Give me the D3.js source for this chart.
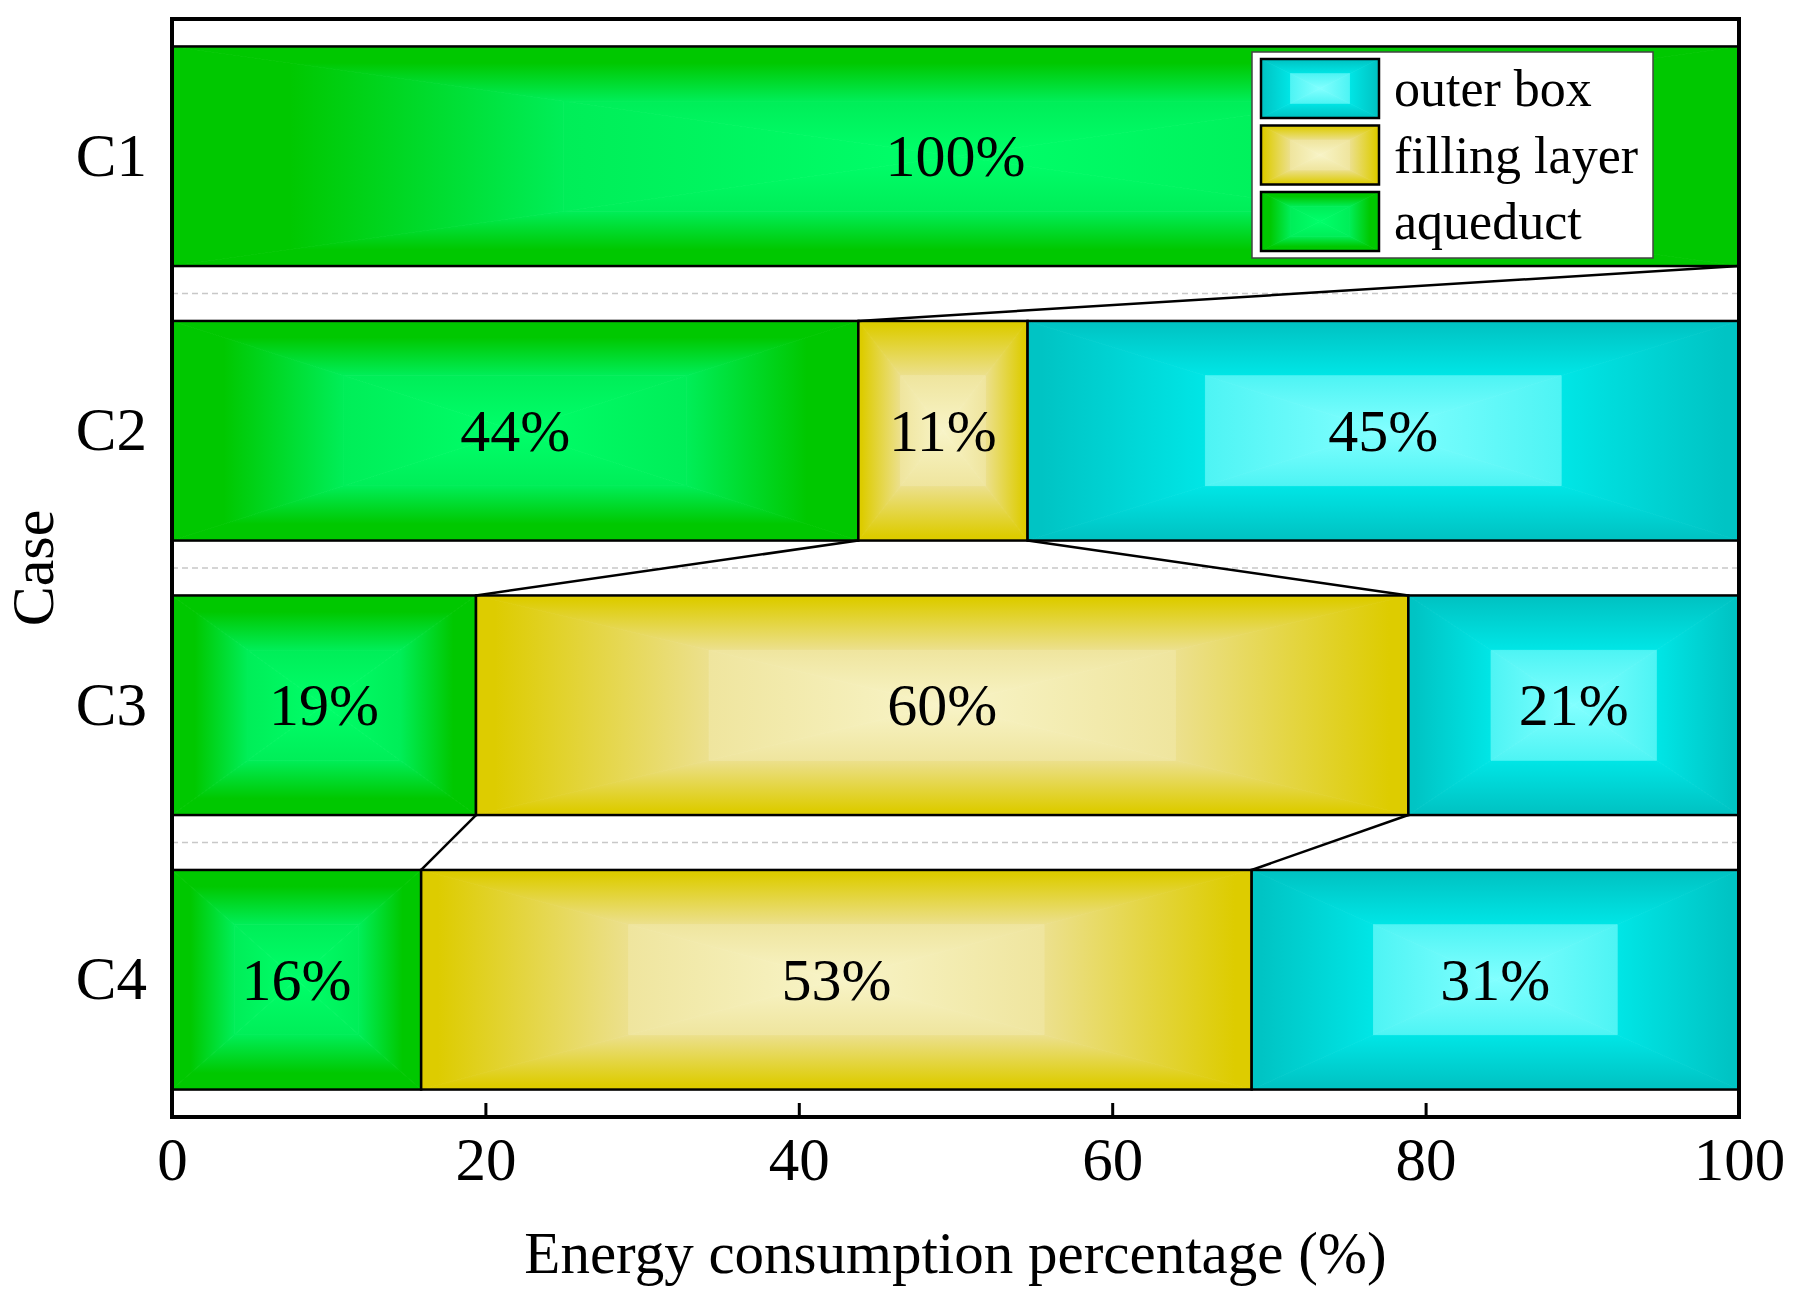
<!DOCTYPE html>
<html>
<head>
<meta charset="utf-8">
<script src="https://cdn.jsdelivr.net/npm/d3@7"></script>
<style>
    body { margin: 0; background: #fff; }
    text { font-family: 'Liberation Serif', 'Times New Roman', serif; fill: #000; }
</style>
</head>
<body>
<div id="chart"></div>
<script>
'use strict';

// data (percent of energy consumption)
const cases = ['C1', 'C2', 'C3', 'C4'];
const aqueduct = [100, 43.8, 19.4, 15.9];
const fillingLayer = [0, 10.8, 59.5, 53.0];
const outerBox = [0, 45.4, 21.1, 31.1];
const xTicks = [0, 20, 40, 60, 80, 100];

const keys = ['aqueduct', 'filling', 'outer'];
const legendOrder = ['outer', 'filling', 'aqueduct'];
const names = {aqueduct: 'aqueduct', filling: 'filling layer', outer: 'outer box'};

// edge, end of outer ring, start of inner box, centre
const shades = {
    aqueduct: ['#00c800', '#00ee58', '#00ee58', '#00ff6a'],
    filling: ['#ddcc00', '#ece08e', '#efe59e', '#f8f4c8'],
    outer: ['#00c4c4', '#00e6e6', '#4ef4f4', '#82ffff'],
};
// how far the edge colour holds before the ramp starts
const hold = {aqueduct: 0.3, filling: 0.08, outer: 0.08};

const width = 1793,
    height = 1306,
    margin = {left: 172, right: 54, top: 19, bottom: 189};

const rows = cases.map((c, i) => ({
    name: c,
    aqueduct: aqueduct[i],
    filling: fillingLayer[i],
    outer: outerBox[i],
}));

const svg = d3.select('#chart').append('svg')
    .attr('width', width)
    .attr('height', height);

const x = d3.scaleLinear()
    .domain([0, 100])
    .range([margin.left, width - margin.right]);

const y = d3.scaleBand()
    .domain(cases)
    .range([margin.top, height - margin.bottom])
    .paddingInner(0.2)
    .paddingOuter(0.1);

const stacked = d3.stack().keys(keys)(rows);

// gradients: one per series, level and side
const defs = svg.append('defs');
const sides = {
    top: [0, 0, 0, 1],
    bottom: [0, 1, 0, 0],
    left: [0, 0, 1, 0],
    right: [1, 0, 0, 0],
};
keys.forEach((k) => {
    [0, 1].forEach((level) => {
        Object.keys(sides).forEach((s) => {
            const v = sides[s];
            const grad = defs.append('linearGradient')
                .attr('id', 'g-' + k + '-' + level + '-' + s)
                .attr('x1', v[0]).attr('y1', v[1])
                .attr('x2', v[2]).attr('y2', v[3]);
            grad.append('stop').attr('offset', 0).attr('stop-color', shades[k][level * 2]);
            if (level === 0) {
                grad.append('stop').attr('offset', hold[k]).attr('stop-color', shades[k][0]);
            }
            grad.append('stop').attr('offset', 1).attr('stop-color', shades[k][level * 2 + 1]);
        });
    });
});

// box shaded rectangle: outer ring, then inner box down to the centre
function shadedRect(g, key, x0, y0, x1, y1) {
    const fx = (x1 - x0) * 0.25,
        fy = (y1 - y0) * 0.25;
    const ix0 = x0 + fx, ix1 = x1 - fx, iy0 = y0 + fy, iy1 = y1 - fy;
    const cx = (x0 + x1) / 2, cy = (y0 + y1) / 2;
    const parts = [
        [0, 'top', [[x0, y0], [x1, y0], [ix1, iy0], [ix0, iy0]]],
        [0, 'bottom', [[x0, y1], [x1, y1], [ix1, iy1], [ix0, iy1]]],
        [0, 'left', [[x0, y0], [ix0, iy0], [ix0, iy1], [x0, y1]]],
        [0, 'right', [[x1, y0], [ix1, iy0], [ix1, iy1], [x1, y1]]],
        [1, 'top', [[ix0, iy0], [ix1, iy0], [cx, cy]]],
        [1, 'bottom', [[ix0, iy1], [ix1, iy1], [cx, cy]]],
        [1, 'left', [[ix0, iy0], [cx, cy], [ix0, iy1]]],
        [1, 'right', [[ix1, iy0], [cx, cy], [ix1, iy1]]],
    ];
    parts.forEach((p) => {
        const fill = 'url(#g-' + key + '-' + p[0] + '-' + p[1] + ')';
        g.append('polygon')
            .attr('points', p[2].map((d) => d.join(',')).join(' '))
            .attr('fill', fill)
            .attr('stroke', fill)
            .attr('stroke-width', 0.8);
    });
}

// dashed lines halfway between the bars
const gridY = cases.slice(1).map((c) => y(c) - y.step() * y.paddingInner() / 2);
svg.append('g').selectAll('line')
    .data(gridY)
    .enter().append('line')
    .attr('x1', x(0)).attr('x2', x(100))
    .attr('y1', (d) => d).attr('y2', (d) => d)
    .attr('stroke', '#c8c8c8')
    .attr('stroke-width', 1.5)
    .attr('stroke-dasharray', '6,4');

// bars
const barLayer = svg.append('g');
stacked.forEach((series) => {
    series.forEach((d) => {
        if (d[1] - d[0] <= 0) return;
        const g = barLayer.append('g');
        const x0 = x(d[0]), x1 = x(d[1]),
            y0 = y(d.data.name), y1 = y0 + y.bandwidth();
        shadedRect(g, series.key, x0, y0, x1, y1);
        g.append('rect')
            .attr('x', x0).attr('y', y0)
            .attr('width', x1 - x0).attr('height', y1 - y0)
            .attr('fill', 'none')
            .attr('stroke', '#000')
            .attr('stroke-width', 2.5);
        g.append('text')
            .attr('x', (x0 + x1) / 2)
            .attr('y', (y0 + y1) / 2)
            .attr('dy', '0.33em')
            .attr('text-anchor', 'middle')
            .style('font-size', '60px')
            .text(Math.round(d[1] - d[0]) + '%');
    });
});

// connect lines between neighbouring bars
const links = [];
for (let i = 0; i < cases.length - 1; i++) {
    [0, 1].forEach((k) => {
        const up = stacked[k][i], down = stacked[k][i + 1];
        if (up[1] - up[0] > 0 && down[1] - down[0] > 0) {
            links.push({
                x1: x(up[1]), y1: y(cases[i]) + y.bandwidth(),
                x2: x(down[1]), y2: y(cases[i + 1]),
            });
        }
    });
}
svg.append('g').selectAll('line')
    .data(links)
    .enter().append('line')
    .attr('x1', (d) => d.x1).attr('y1', (d) => d.y1)
    .attr('x2', (d) => d.x2).attr('y2', (d) => d.y2)
    .attr('stroke', '#000')
    .attr('stroke-width', 2.5);

// axes
const xAxis = svg.append('g')
    .attr('transform', 'translate(0,' + (height - margin.bottom) + ')')
    .call(d3.axisBottom(x).tickValues(xTicks).tickSizeInner(-14).tickSizeOuter(0).tickFormat(d3.format('d')));
xAxis.select('.domain').remove();
xAxis.selectAll('.tick line').attr('stroke', '#000').attr('stroke-width', 3);
xAxis.selectAll('.tick text')
    .attr('y', 63)
    .attr('dy', 0)
    .style('font-size', '61px')
    .style('font-family', "'Liberation Serif', 'Times New Roman', serif");

const yAxis = svg.append('g')
    .attr('transform', 'translate(' + margin.left + ',0)')
    .call(d3.axisLeft(y).tickSize(0).tickPadding(25));
yAxis.select('.domain').remove();
yAxis.selectAll('.tick text')
    .attr('dy', '0.32em')
    .style('font-size', '61px')
    .style('font-family', "'Liberation Serif', 'Times New Roman', serif");

// frame
svg.append('rect')
    .attr('x', x(0)).attr('y', margin.top)
    .attr('width', x(100) - x(0))
    .attr('height', height - margin.bottom - margin.top)
    .attr('fill', 'none')
    .attr('stroke', '#000')
    .attr('stroke-width', 4);

// axis titles
svg.append('text')
    .attr('x', (x(0) + x(100)) / 2)
    .attr('y', 1273)
    .attr('text-anchor', 'middle')
    .style('font-size', '59px')
    .text('Energy consumption percentage (%)');

svg.append('text')
    .attr('transform', 'translate(53,' + (margin.top + height - margin.bottom) / 2 + ') rotate(-90)')
    .attr('text-anchor', 'middle')
    .style('font-size', '60px')
    .text('Case');

// legend
const legend = svg.append('g').attr('transform', 'translate(1252,52)');
legend.append('rect')
    .attr('width', 401).attr('height', 206)
    .attr('fill', '#fff')
    .attr('stroke', '#444')
    .attr('stroke-width', 1.5);
legendOrder.forEach((k, i) => {
    const row = legend.append('g').attr('transform', 'translate(9,' + (7 + i * 66.5) + ')');
    shadedRect(row, k, 0, 0, 118, 59);
    row.append('rect')
        .attr('width', 118).attr('height', 59)
        .attr('fill', 'none')
        .attr('stroke', '#000')
        .attr('stroke-width', 2.5);
    row.append('text')
        .attr('x', 133)
        .attr('y', 47)
        .style('font-size', '52px')
        .text(names[k]);
});
</script>
</body>
</html>
